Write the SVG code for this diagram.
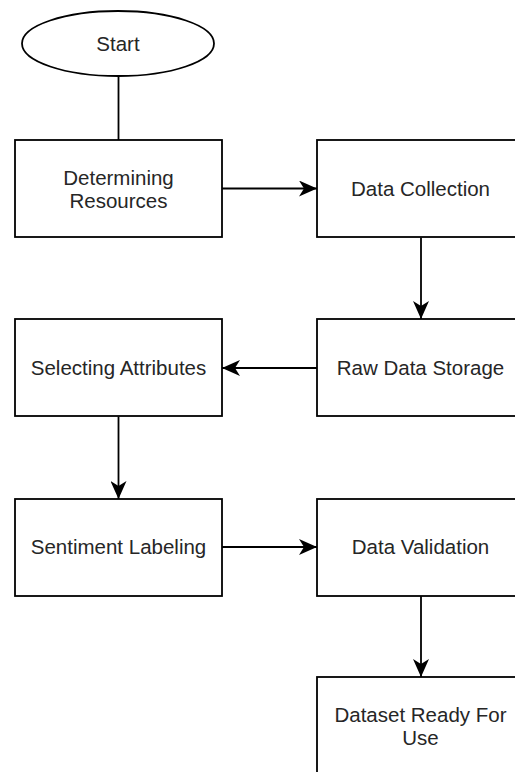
<svg xmlns="http://www.w3.org/2000/svg" width="515" height="772" viewBox="0 0 515 772">
<style>
.box{fill:#fff;stroke:#000;stroke-width:1.8}
.lbl{font-family:"Liberation Sans",Arial,sans-serif;font-size:20.5px;fill:#262626;text-anchor:middle}
.edge{fill:none;stroke:#000;stroke-width:1.8}
</style>
<defs>
<marker id="arr" viewBox="0 0 20 16" refX="18" refY="8" markerWidth="20" markerHeight="16" markerUnits="userSpaceOnUse" orient="auto">
<path d="M0,0 L18,8 L0,16 L5,8 Z" fill="#000"/>
</marker>
</defs>
<rect width="515" height="772" fill="#fff"/>
<g id="connectors">
<path class="edge" d="M118.5,76 V140"/>
<path class="edge" d="M222,188.5 H317" marker-end="url(#arr)"/>
<path class="edge" d="M421,237.5 V319" marker-end="url(#arr)"/>
<path class="edge" d="M317,368 H222" marker-end="url(#arr)"/>
<path class="edge" d="M118.5,416.5 V499" marker-end="url(#arr)"/>
<path class="edge" d="M222,547 H317" marker-end="url(#arr)"/>
<path class="edge" d="M421,595.5 V677" marker-end="url(#arr)"/>
</g>
<g id="start">
<ellipse class="box" cx="118" cy="43.5" rx="96" ry="32.5"/>
<text class="lbl" x="118" y="50.5">Start</text>
</g>
<g id="determining">
<rect class="box" x="15" y="140" width="207" height="97"/>
<text class="lbl" x="118.5" y="185">Determining</text>
<text class="lbl" x="118.5" y="207.5">Resources</text>
</g>
<g id="collection">
<rect class="box" x="317" y="140" width="207" height="97"/>
<text class="lbl" x="420.5" y="195.5">Data Collection</text>
</g>
<g id="storage">
<rect class="box" x="317" y="319" width="207" height="97"/>
<text class="lbl" x="420.5" y="375">Raw Data Storage</text>
</g>
<g id="selecting">
<rect class="box" x="15" y="319" width="207" height="97"/>
<text class="lbl" x="118.5" y="375">Selecting Attributes</text>
</g>
<g id="sentiment">
<rect class="box" x="15" y="499" width="207" height="97"/>
<text class="lbl" x="118.5" y="554">Sentiment Labeling</text>
</g>
<g id="validation">
<rect class="box" x="317" y="499" width="207" height="97"/>
<text class="lbl" x="420.5" y="554">Data Validation</text>
</g>
<g id="ready">
<rect class="box" x="317" y="677" width="207" height="97"/>
<text class="lbl" x="420.5" y="721.5">Dataset Ready For</text>
<text class="lbl" x="420.5" y="744.5">Use</text>
</g>
</svg>
